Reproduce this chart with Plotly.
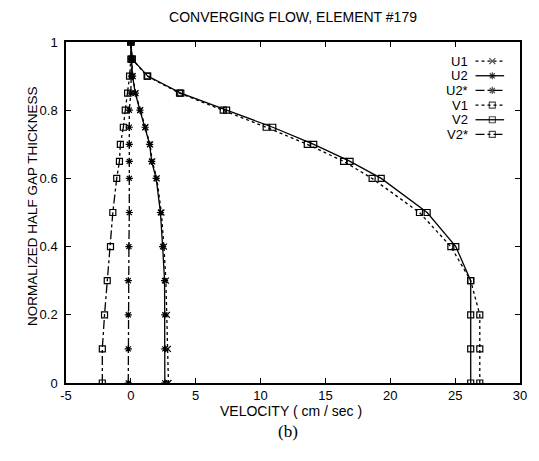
import plotly.graph_objects as go

# ---- data ----
y_levels = [0, 0.1, 0.2, 0.3, 0.4, 0.5, 0.6, 0.65, 0.7, 0.75, 0.8, 0.85, 0.9, 0.95, 1.0]

u1 = [2.9, 2.85, 2.78, 2.7, 2.55, 2.35, 2.0, 1.65, 1.48, 1.12, 0.72, 0.36, 0.14, 0.05, 0.0]
u2 = [2.62, 2.62, 2.62, 2.6, 2.45, 2.28, 1.95, 1.6, 1.45, 1.1, 0.7, 0.34, 0.13, 0.05, 0.0]
u2s = [-0.2, -0.2, -0.2, -0.2, -0.15, -0.12, -0.12, -0.12, -0.12, -0.12, -0.12, 0.0, 0.05, 0.05, 0.0]
v1 = [26.9, 26.9, 26.9, 26.2, 24.67, 22.25, 18.6, 16.4, 13.6, 10.43, 7.12, 3.75, 1.25, 0.1, 0.0]
v2 = [26.2, 26.2, 26.2, 26.2, 25.05, 22.84, 19.3, 16.9, 14.1, 10.94, 7.38, 3.85, 1.3, 0.1, 0.0]
v2s = [-2.2, -2.2, -2.03, -1.82, -1.57, -1.39, -1.09, -0.88, -0.81, -0.58, -0.43, -0.25, -0.1, 0.0, 0.0]

names = ["U1", "U2", "U2*", "V1", "V2", "V2*"]
values = [u1, u2, u2s, v1, v2, v2s]
dashes = ["dot", "solid", "dashdot", "dot", "solid", "dashdot"]
symbols = ["x-thin-open", "asterisk-open", "asterisk-open", "square-open", "square-open", "square-open"]

x_ticks = [-5, 0, 5, 10, 15, 20, 25, 30]
y_ticks = [0, 0.2, 0.4, 0.6, 0.8, 1]

FONT = "Liberation Sans, Arial, Helvetica, sans-serif"

# the page body adds an 8px offset; compensate so the plot area lands where the reference has it
OFF = 8
W, H = 539 - OFF, 461 - OFF

fig = go.Figure()
for nm, vals, dsh, sym in zip(names, values, dashes, symbols):
    fig.add_trace(go.Scatter(
        x=vals, y=y_levels, mode="lines+markers", name=nm, showlegend=False,
        line=dict(color="black", width=1.3, dash=dsh),
        marker=dict(symbol=sym, size=6, color="black", line=dict(color="black", width=1.2)),
        hoverinfo="skip"))

# custom gnuplot-style key: label on the left, sample on the right
row_top, row_step = 0.944, 0.043
for i, (nm, dsh, sym) in enumerate(zip(names, dashes, symbols)):
    ry = row_top - i * row_step
    fig.add_trace(go.Scatter(
        x=[0.902, 0.939, 0.965], y=[ry, ry, ry], xaxis="x2", yaxis="y2",
        mode="lines+markers", showlegend=False, hoverinfo="skip",
        line=dict(color="black", width=1.3, dash=dsh),
        marker=dict(symbol=sym, size=[0, 6, 0], color="black", line=dict(color="black", width=1.2))))
    fig.add_annotation(x=0.887, y=ry, xref="paper", yref="paper", text=nm,
                       showarrow=False, xanchor="right", yanchor="middle", borderpad=0,
                       font=dict(family=FONT, size=13, color="black"))

axis_common = dict(showline=True, linecolor="black", linewidth=1.5, mirror="allticks",
                   ticks="inside", ticklen=5, tickcolor="black", tickwidth=1,
                   showgrid=False, zeroline=False,
                   tickfont=dict(family=FONT, size=13, color="black"))

fig.update_layout(
    width=W, height=H,
    margin=dict(l=66 - OFF, r=14, t=42 - OFF, b=78),
    paper_bgcolor="white", plot_bgcolor="white",
    title=dict(text="CONVERGING FLOW, ELEMENT #179", x=0.5, xref="paper",
               y=1 - (17 - OFF) / H, yanchor="middle",
               font=dict(family=FONT, size=14, color="black")),
    xaxis=dict(range=[-5, 30], tickvals=x_ticks, ticktext=[str(t) for t in x_ticks], **axis_common),
    yaxis=dict(range=[0, 1], tickvals=y_ticks, ticktext=["0", "0.2", "0.4", "0.6", "0.8", "1"],
               ticklabelstandoff=4, **axis_common),
    xaxis2=dict(range=[0, 1], overlaying="x", visible=False),
    yaxis2=dict(range=[0, 1], overlaying="y", visible=False),
    showlegend=False,
)

fig.add_annotation(x=0.495, y=-0.082, xref="paper", yref="paper", text="VELOCITY ( cm / sec )",
                   showarrow=False, xanchor="center", yanchor="middle", borderpad=0,
                   font=dict(family=FONT, size=14, color="black"))
fig.add_annotation(x=0.49, y=-0.142, xref="paper", yref="paper", text="(b)",
                   showarrow=False, xanchor="center", yanchor="middle", borderpad=0,
                   font=dict(family="Liberation Serif, Times New Roman, serif", size=17, color="black"))
fig.add_annotation(x=-0.074, y=0.52, xref="paper", yref="paper", text="NORMALIZED HALF GAP THICKNESS",
                   showarrow=False, textangle=-90, xanchor="center", yanchor="middle",
                   font=dict(family=FONT, size=13.5, color="black"))

fig.write_html("out.html")
